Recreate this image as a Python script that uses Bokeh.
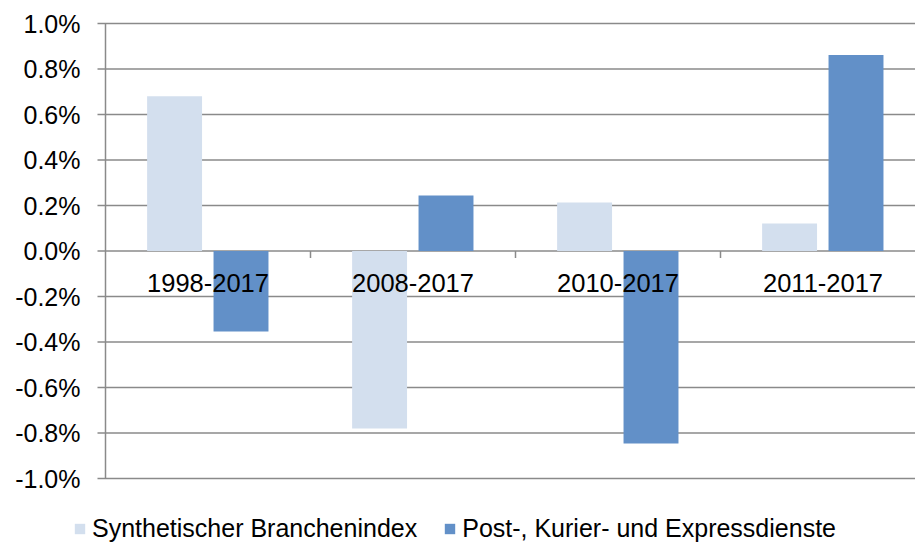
from bokeh.plotting import figure
from bokeh.models import Range1d, Legend, LegendItem, ColumnDataSource
from bokeh.core.properties import value
from bokeh.embed import file_html
from bokeh.resources import INLINE

categories = ["1998-2017", "2008-2017", "2010-2017", "2011-2017"]
synth = [0.68, -0.78, 0.213, 0.121]
post = [-0.354, 0.244, -0.846, 0.861]
y_ticks = [-1.0, -0.8, -0.6, -0.4, -0.2, 0.0, 0.2, 0.4, 0.6, 0.8, 1.0]
series_names = ["Synthetischer Branchenindex", "Post-, Kurier- und Expressdienste"]

LIGHT = "#D3DFEE"
DARK = "#6290C8"
GRID = "#8A8A8A"
FONT = "Liberation Sans"

W, H = 915, 544
CAT_PX = 205.0      # pixels per category
UNIT_PX = 227.5     # pixels per 1 %
LEFT_PX, TOP_PX = 105.0, 23.0
TICK_OUT = 8.0 / CAT_PX

x_start = -LEFT_PX / CAT_PX
x_end = (W - LEFT_PX) / CAT_PX
y_top = y_ticks[-1] + TOP_PX / UNIT_PX
y_bottom = y_top - H / UNIT_PX

xs = [i + 0.5 for i in range(len(categories))]
src = ColumnDataSource(dict(
    x_l=[x - 0.163 for x in xs], x_d=[x + 0.161 for x in xs],
    synth=synth, post=post, cat=categories, x=xs, zero=[0.0] * len(xs),
))

p = figure(width=W, height=H, output_backend="svg", toolbar_location=None,
           x_range=Range1d(x_start, x_end), y_range=Range1d(y_bottom, y_top),
           min_border=0, min_border_left=0, min_border_right=0,
           min_border_top=0, min_border_bottom=0)
p.outline_line_color = None
p.background_fill_color = "white"
p.border_fill_color = "white"
p.xaxis.visible = False
p.yaxis.visible = False
p.grid.visible = False

# horizontal gridlines (with outward tick part)
n = len(y_ticks)
p.segment(x0=[-TICK_OUT] * n, y0=y_ticks, x1=[x_end] * n, y1=y_ticks,
          line_color=GRID, line_width=1.5)
# vertical value axis
p.segment(x0=[0], y0=[y_ticks[0]], x1=[0], y1=[y_ticks[-1]],
          line_color=GRID, line_width=1.5)

r1 = p.vbar(x="x_l", top="synth", bottom=0, width=0.268, source=src,
            fill_color=LIGHT, line_color=None)
r2 = p.vbar(x="x_d", top="post", bottom=0, width=0.268, source=src,
            fill_color=DARK, line_color=None)

# category ticks on the zero line
bounds = list(range(1, len(categories)))
p.segment(x0=bounds, y0=[0] * len(bounds), x1=bounds, y1=[-7 / UNIT_PX] * len(bounds),
          line_color=GRID, line_width=1.5)

# category labels
p.text(x="x", y="zero", text="cat", source=src, text_align="center",
       text_baseline="middle", y_offset=32, text_font=value(FONT),
       text_font_size="25.5px", text_color="black")

# value tick labels
tick_labels = [f"{v:.1f}%" for v in y_ticks]
p.text(x=[0] * n, y=y_ticks, text=tick_labels, text_align="right",
       text_baseline="middle", x_offset=-25, text_font=value(FONT),
       text_font_size="25px", text_color="black")

legend = Legend(items=[LegendItem(label=series_names[0], renderers=[r1]),
                       LegendItem(label=series_names[1], renderers=[r2])],
                orientation="horizontal", location=(73, 1),
                label_text_font=FONT, label_text_font_size="25px",
                label_text_color="black", glyph_width=13, glyph_height=13,
                label_standoff=6, spacing=26, padding=0, margin=0,
                border_line_color=None, background_fill_alpha=0)
p.add_layout(legend, "center")

open("out.html", "w").write(file_html(p, INLINE))
